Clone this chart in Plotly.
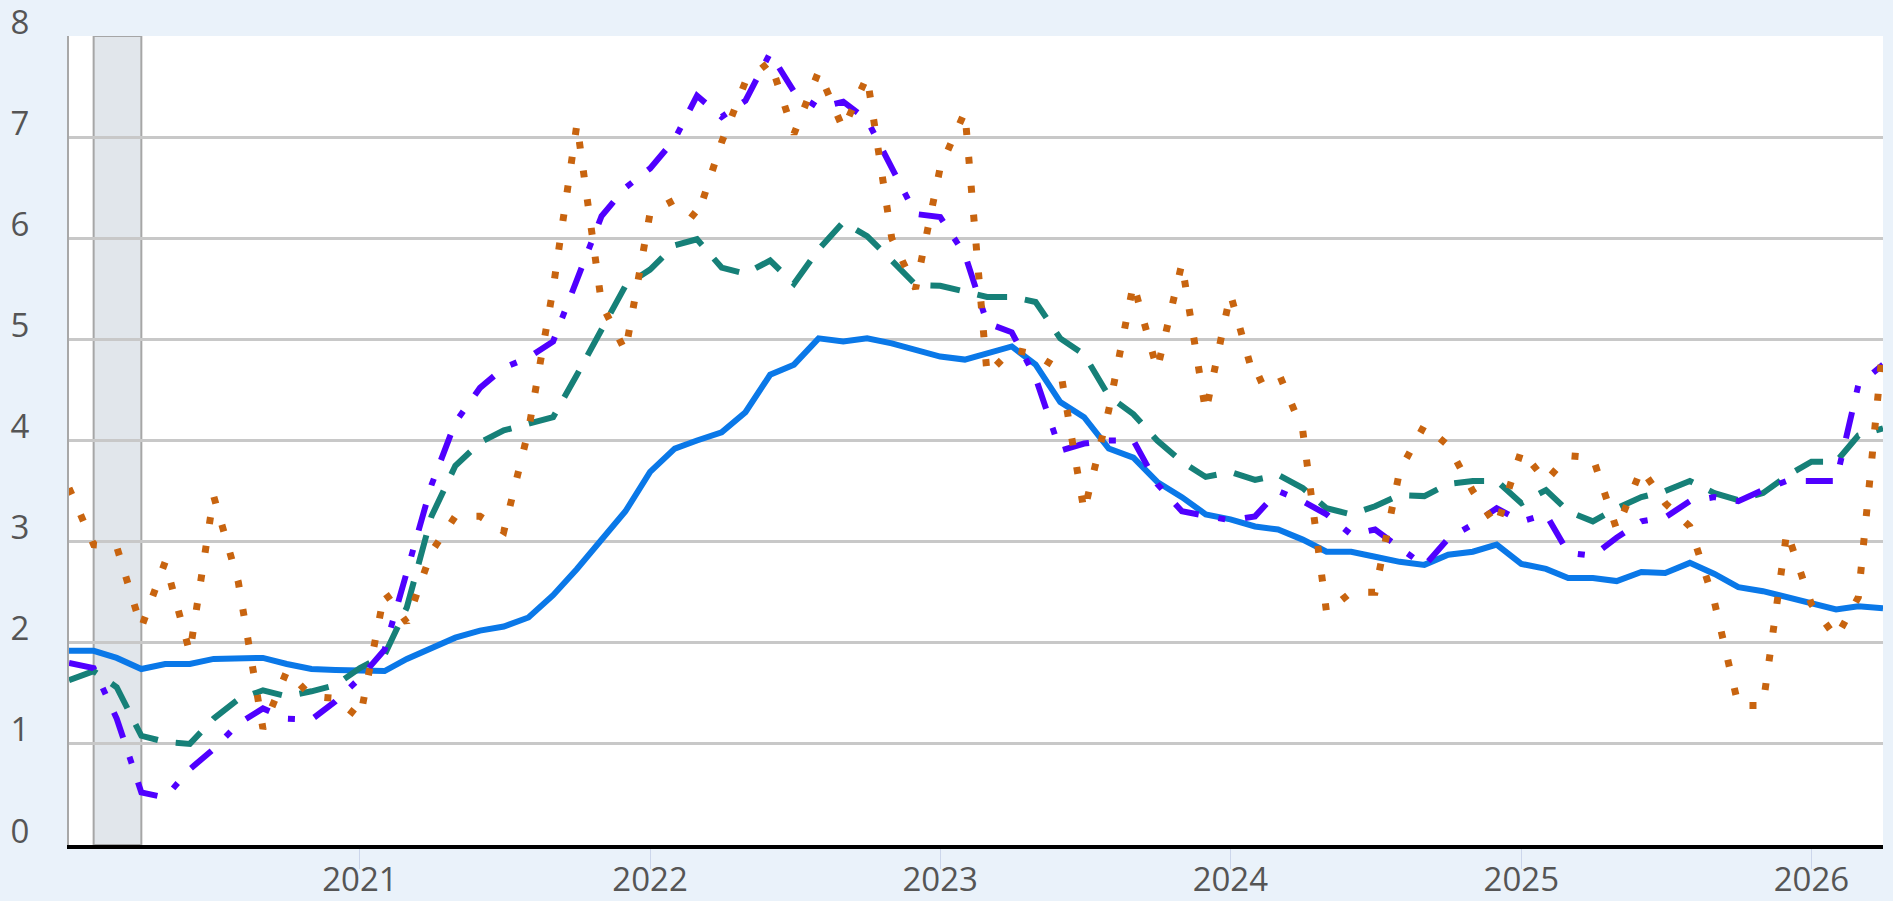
import pandas as pd
import plotly.graph_objects as go

# ---- data (monthly, Jan 2020 .. Apr 2026) ----
start_month = "2020-01-01"
n_months = 76
dates = pd.date_range(start_month, periods=n_months, freq="MS")

series_solid = [
    1.92, 1.92, 1.85, 1.74, 1.79, 1.79, 1.84, 1.85, 1.85, 1.79,
    1.74, 1.73, 1.73, 1.72, 1.84, 1.95, 2.05, 2.12, 2.16, 2.25,
    2.47, 2.73, 3.02, 3.30, 3.69, 3.92, 4.00, 4.08, 4.28, 4.65,
    4.75, 5.01, 4.98, 5.01, 4.96, 4.89, 4.83, 4.80, 4.86, 4.93,
    4.75, 4.38, 4.23, 3.92, 3.83, 3.59, 3.44, 3.27, 3.22, 3.15,
    3.12, 3.02, 2.90, 2.90, 2.85, 2.80, 2.77, 2.87, 2.90, 2.97,
    2.78, 2.73, 2.64, 2.64, 2.61, 2.70, 2.69, 2.79, 2.68, 2.55,
    2.51, 2.45, 2.40, 2.33, 2.36, 2.34,
]

series_dash = [
    1.63, 1.72, 1.56, 1.08, 1.02, 1.00, 1.25, 1.44, 1.53, 1.47,
    1.52, 1.58, 1.75, 1.88, 2.35, 3.25, 3.75, 3.98, 4.10, 4.17,
    4.23, 4.65, 5.11, 5.53, 5.69, 5.93, 5.99, 5.71, 5.65, 5.78,
    5.55, 5.89, 6.16, 6.02, 5.78, 5.54, 5.53, 5.47, 5.42, 5.42,
    5.37, 5.01, 4.85, 4.44, 4.26, 4.00, 3.79, 3.64, 3.69, 3.61,
    3.66, 3.53, 3.33, 3.27, 3.35, 3.46, 3.45, 3.57, 3.60, 3.60,
    3.38, 3.51, 3.30, 3.20, 3.33, 3.44, 3.50, 3.60, 3.48, 3.41,
    3.48, 3.65, 3.79, 3.79, 4.05, 4.12,
]

series_dashdot = [
    1.80, 1.75, 1.25, 0.52, 0.47, 0.75, 0.95, 1.20, 1.35, 1.25,
    1.24, 1.42, 1.65, 1.93, 2.70, 3.56, 4.18, 4.52, 4.72, 4.82,
    4.98, 5.58, 6.22, 6.50, 6.69, 6.98, 7.41, 7.20, 7.36, 7.83,
    7.45, 7.29, 7.35, 7.17, 6.69, 6.24, 6.21, 5.84, 5.16, 5.07,
    4.62, 3.90, 3.97, 4.00, 4.00, 3.57, 3.30, 3.26, 3.21, 3.25,
    3.50, 3.40, 3.27, 3.07, 3.12, 2.94, 2.76, 3.03, 3.17, 3.33,
    3.20, 3.27, 2.89, 2.86, 3.04, 3.20, 3.24, 3.40, 3.44, 3.40,
    3.51, 3.60, 3.60, 3.60, 4.55, 4.75,
]

series_dot = [
    3.53, 2.97, 2.95, 2.15, 2.80, 1.90, 3.45, 2.60, 1.15, 1.72,
    1.47, 1.45, 1.25, 2.50, 2.20, 2.90, 3.25, 3.25, 3.10, 4.10,
    5.50, 7.13, 5.35, 4.88, 6.25, 6.38, 6.20, 6.95, 7.55, 7.75,
    7.03, 7.65, 7.08, 7.60, 6.00, 5.50, 6.70, 7.25, 4.65, 4.90,
    4.85, 4.70, 3.30, 4.30, 5.55, 4.70, 5.75, 4.28, 5.45, 4.58,
    4.68, 4.10, 2.30, 2.50, 2.50, 3.70, 4.15, 3.95, 3.50, 3.15,
    3.90, 3.60, 3.85, 3.83, 3.12, 3.72, 3.38, 3.15, 2.40, 1.38,
    1.38, 3.10, 2.38, 2.05, 2.45, 4.95,
]

recession_start = "2020-02-01"
recession_end = "2020-04-01"
y_ticks = [0, 1, 2, 3, 4, 5, 6, 7, 8]
x_tick_dates = ["2021-01-01", "2022-01-01", "2023-01-01", "2024-01-01", "2025-01-01", "2026-01-01"]
x_tick_labels = ["2021", "2022", "2023", "2024", "2025", "2026"]

# ---- styles ----
C_SOLID = "#0a78e8"
C_DASH = "#168078"
C_DASHDOT = "#5000ff"
C_DOT = "#c8640f"
FONT = "Open Sans"
LABEL_COLOR = "#555555"

fig = go.Figure()
fig.add_trace(go.Scatter(x=dates, y=series_solid, mode="lines",
                         line=dict(color=C_SOLID, width=6), name="solid"))
fig.add_trace(go.Scatter(x=dates, y=series_dash, mode="lines",
                         line=dict(color=C_DASH, width=6, dash="30px,18px"), name="dash"))
fig.add_trace(go.Scatter(x=dates, y=series_dashdot, mode="lines",
                         line=dict(color=C_DASHDOT, width=6, dash="27px,20px,7px,20px"), name="dashdot"))
fig.add_trace(go.Scatter(x=dates, y=series_dot, mode="lines",
                         line=dict(color=C_DOT, width=7, dash="7px,22px"), name="dot"))

fig.add_shape(type="rect", xref="x", yref="y", x0=recession_start, x1=recession_end,
              y0=0, y1=8, fillcolor="#e1e6eb", line=dict(color="#a6a6a6", width=2),
              layer="below")

fig.update_layout(
    width=1893, height=901,
    margin=dict(l=69, r=10, t=36, b=56, pad=0, autoexpand=False),
    paper_bgcolor="#eaf2fa",
    plot_bgcolor="#ffffff",
    showlegend=False,
    font=dict(family=FONT, size=33, color=LABEL_COLOR),
)
fig.update_xaxes(
    type="date", automargin=False,
    range=[dates[0], dates[-1]],
    tickvals=x_tick_dates, ticktext=x_tick_labels,
    showgrid=False, zeroline=False,
    showline=True, linecolor="#000000", linewidth=4,
    ticks="outside", ticklen=20, tickwidth=1, tickcolor="#ccd6eb",
    ticklabelstandoff=-18, ticklabeloverflow="allow",
    tickfont=dict(family=FONT, size=33, color=LABEL_COLOR),
)
fig.update_yaxes(
    range=[0, 8], tickvals=y_ticks, automargin=False,
    showgrid=True, gridcolor="#c8c8c8", gridwidth=3,
    zeroline=False,
    showline=True, linecolor="#a8a8a8", linewidth=2,
    ticks="", ticklabelstandoff=31, ticklabelshift=-14,
    ticklabeloverflow="allow",
    tickfont=dict(family=FONT, size=33, color=LABEL_COLOR),
)

fig.write_html("out.html", config={"displayModeBar": False},
               post_script="document.body.style.margin='0';document.body.style.overflow='hidden';")
